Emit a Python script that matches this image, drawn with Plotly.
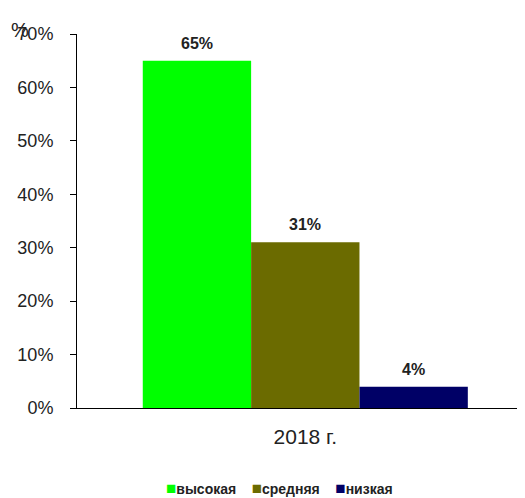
import plotly.graph_objects as go

categories = ["высокая", "средняя", "низкая"]
values = [65, 31, 4]
colors = ["#00ff00", "#6b6b00", "#000066"]
group_label = "2018 г."
y_ticks = [0, 10, 20, 30, 40, 50, 60, 70]
y_tick_labels = [f"{t}%" for t in y_ticks]

FONT = "Liberation Sans, Arial, sans-serif"

fig = go.Figure()
positions = list(range(len(categories)))
for i, (name, v, c) in enumerate(zip(categories, values, colors)):
    fig.add_trace(go.Bar(x=[positions[i]], y=[v], name=name, width=1,
                         marker=dict(color=c, line=dict(width=0)),
                         showlegend=False, hoverinfo="skip"))
    fig.add_annotation(x=positions[i], y=v, text=f"{v}%", showarrow=False,
                       yanchor="bottom", yshift=7,
                       font=dict(family=FONT, size=16, color="#222222", weight="bold"))

legend_text = "&nbsp;&nbsp;&nbsp;&nbsp;".join(
    f"<span style='color:{c};font-size:17px'>■</span>{n}" for n, c in zip(categories, colors))
fig.add_annotation(xref="paper", yref="paper", x=0.455, y=-0.214, text=legend_text,
                   showarrow=False, xanchor="center", yanchor="middle",
                   font=dict(family=FONT, size=14, color="#222222", weight="bold"))

fig.add_annotation(xref="paper", yref="paper", x=-0.152, y=1.012, text="%",
                   showarrow=False, xanchor="left", yanchor="middle",
                   font=dict(family=FONT, size=20, color="#222222"))

fig.update_layout(
    width=517, height=490,
    margin=dict(l=69, r=3, t=26, b=90),
    paper_bgcolor="white", plot_bgcolor="white",
    barmode="overlay",
    xaxis=dict(range=[-1.107, 3.0], tickvals=[positions[len(positions) // 2]],
               ticktext=[group_label], showgrid=False, zeroline=False,
               showline=True, linecolor="black", linewidth=1, ticks="",
               ticklabelstandoff=10, automargin=False,
               tickfont=dict(family=FONT, size=21, color="#222222")),
    yaxis=dict(range=[0, 70], tickvals=y_ticks, ticktext=y_tick_labels, showgrid=False,
               zeroline=False, showline=True, linecolor="black", linewidth=1,
               ticks="outside", ticklen=6, tickcolor="black",
               ticklabelstandoff=13, automargin=False,
               tickfont=dict(family=FONT, size=18, color="#222222")),
)

fig.write_html("out.html")
